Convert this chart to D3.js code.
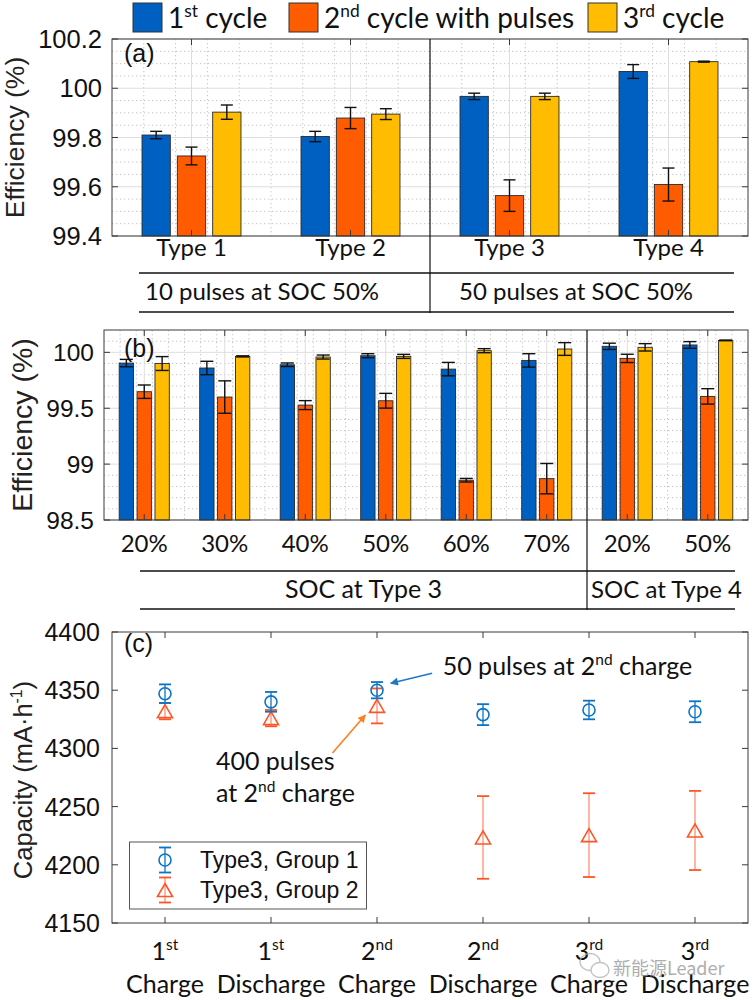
<!DOCTYPE html>
<html><head><meta charset="utf-8">
<script src="https://cdn.jsdelivr.net/npm/d3@7"></script>
<style>html,body{margin:0;padding:0;background:#fff;} svg{display:block;} text{white-space:pre;}</style>
</head><body>
<svg id="chart" width="754" height="1000"></svg>
<script>
// ---------------- DATA ----------------
const seriesNames = ["1^{st} cycle", "2^{nd} cycle with pulses", "3^{rd} cycle"];

// Panel (a)
const aCategories = ["Type 1", "Type 2", "Type 3", "Type 4"];
const aCycle1    = [99.810, 99.804, 99.967, 100.068];
const aCycle1Err = [0.015, 0.021, 0.013, 0.028];
const aCycle2    = [99.725, 99.879, 99.564, 99.609];
const aCycle2Err = [0.036, 0.043, 0.064, 0.067];
const aCycle3    = [99.903, 99.895, 99.967, 100.108];
const aCycle3Err = [0.029, 0.022, 0.013, 0.002];
const aGroupLabels = ["10 pulses at SOC 50%", "50 pulses at SOC 50%"];
const aTicks = [99.4, 99.6, 99.8, 100, 100.2];

// Panel (b)
const bCategories = ["20%", "30%", "40%", "50%", "60%", "70%", "20%", "50%"];
const bCycle1    = [99.904, 99.860, 99.889, 99.970, 99.850, 99.928, 100.054, 100.066];
const bCycle1Err = [0.033, 0.060, 0.016, 0.018, 0.060, 0.060, 0.028, 0.030];
const bCycle2    = [99.648, 99.600, 99.528, 99.567, 98.856, 98.870, 99.946, 99.606];
const bCycle2Err = [0.060, 0.145, 0.040, 0.066, 0.016, 0.136, 0.037, 0.069];
const bCycle3    = [99.900, 99.964, 99.958, 99.964, 100.015, 100.030, 100.045, 100.107];
const bCycle3Err = [0.062, 0.005, 0.018, 0.018, 0.018, 0.057, 0.033, 0.003];
const bGroupLabels = ["SOC at Type 3", "SOC at Type 4"];
const bTicks = [98.5, 99, 99.5, 100];

// Panel (c)
const cCycleLabels = ["1^{st}", "1^{st}", "2^{nd}", "2^{nd}", "3^{rd}", "3^{rd}"];
const cStepLabels  = ["Charge", "Discharge", "Charge", "Discharge", "Charge", "Discharge"];
const cGroup1    = [4347, 4340, 4350, 4329, 4333, 4331.5];
const cGroup1Err = [8, 8.5, 7, 9, 8, 9];
const cGroup2    = [4332, 4326, 4336.5, 4223.5, 4225.5, 4229.5];
const cGroup2Err = [7, 7, 15, 35.5, 36, 34];
const cSeriesNames = ["Type3, Group 1", "Type3, Group 2"];
const cTicks = [4150, 4200, 4250, 4300, 4350, 4400];
const cNotes = ["50 pulses at 2^{nd} charge", "400 pulses", "at 2^{nd} charge"];

// ---------------- STYLE ----------------
const W = 754, H = 1000;
const FONT_C = "Lato, 'Open Sans', sans-serif";
const FONT_A = "'Liberation Sans', Arial, Helvetica, sans-serif";
const barColors = ["#0060C2", "#FF5B00", "#FFBC00"];
const c1Color = "#0A74C8", c2Color = "#FF5526";
const AX = "#3a3a3a", TXT = "#111";

const svg = d3.select("#chart");
svg.append("rect").attr("width", W).attr("height", H).attr("fill", "#fff");

function rich(t, str, size) {
  const parts = []; const re = /\^\{([^}]*)\}/g; let last = 0, m;
  while ((m = re.exec(str))) {
    if (m.index > last) parts.push({ t: str.slice(last, m.index), sup: false });
    parts.push({ t: m[1], sup: true }); last = re.lastIndex;
  }
  if (last < str.length) parts.push({ t: str.slice(last), sup: false });
  const shift = size * 0.4; let raised = false;
  parts.forEach(p => {
    const ts = t.append("tspan").text(p.t);
    if (p.sup) { ts.attr("font-size", size * 0.62); if (!raised) { ts.attr("dy", -shift); raised = true; } }
    else if (raised) { ts.attr("dy", shift); raised = false; }
  });
  return t;
}
function txt(g, x, y, str, size, font, anchor) {
  const t = g.append("text").attr("x", x).attr("y", y).attr("font-size", size)
    .attr("font-family", font).attr("fill", TXT).attr("text-anchor", anchor || "start");
  return rich(t, str, size);
}
function hline(g, x0, x1, y, w, c) {
  g.append("line").attr("x1", x0).attr("x2", x1).attr("y1", y).attr("y2", y)
    .attr("stroke", c || "#111").attr("stroke-width", w || 1.5);
}
function vline(g, x, y0, y1, w, c) {
  g.append("line").attr("x1", x).attr("x2", x).attr("y1", y0).attr("y2", y1)
    .attr("stroke", c || "#111").attr("stroke-width", w || 1);
}

// ---------------- LEGEND TOP ----------------
const legX = [133, 289, 588];
seriesNames.forEach((s, i) => {
  svg.append("rect").attr("x", legX[i]).attr("y", 3).attr("width", 29).attr("height", 29)
    .attr("fill", barColors[i]).attr("stroke", "#333").attr("stroke-width", 1);
  txt(svg, legX[i] + 35, 28, s, 28, FONT_C);
});

// ---------------- BAR PANEL ----------------
function barPanel(o) {
  const g = svg.append("g");
  const n = o.cats.length;
  const x = d3.scaleLinear().domain([0.5, n + 0.5]).range([o.x0, o.x1]);
  const y = d3.scaleLinear().domain(o.domain).range([o.y1, o.y0]);
  const nMinY = Math.round((o.domain[1] - o.domain[0]) / o.minorY);
  for (let k = 1; k < nMinY; k++) {
    const v = o.domain[0] + k * o.minorY;
    if (o.ticks.some(t => Math.abs(t - v) < 1e-6)) continue;
    g.append("line").attr("x1", o.x0).attr("x2", o.x1).attr("y1", y(v)).attr("y2", y(v))
      .attr("stroke", "#c4c4c4").attr("stroke-width", 1).attr("stroke-dasharray", "1.3,2.7");
  }
  const nMinX = Math.round(n / 0.2);
  for (let k = 1; k < nMinX; k++) {
    const v = 0.5 + k * 0.2;
    if (Math.abs(v - Math.round(v)) < 1e-6) continue;
    g.append("line").attr("x1", x(v)).attr("x2", x(v)).attr("y1", o.y0).attr("y2", o.y1)
      .attr("stroke", "#c4c4c4").attr("stroke-width", 1).attr("stroke-dasharray", "1.3,2.7");
  }
  o.ticks.forEach(t => hline(g, o.x0, o.x1, y(t), 1, "#dedede"));
  d3.range(1, n + 1).forEach(i => vline(g, x(i), o.y0, o.y1, 1, "#dedede"));
  const step = 0.2222, bw = 0.178;
  o.series.forEach((ser, s) => {
    const off = (s - 1) * step;
    g.selectAll(null).data(ser.v).enter().append("rect")
      .attr("x", (d, i) => x(i + 1 + off - bw / 2))
      .attr("width", x(bw) - x(0))
      .attr("y", d => y(d))
      .attr("height", d => y(o.domain[0]) - y(d))
      .attr("fill", barColors[s]).attr("stroke", "#2a2a2a").attr("stroke-width", 0.9);
  });
  o.series.forEach((ser, s) => {
    const off = (s - 1) * step;
    ser.v.forEach((v, i) => {
      const cx = x(i + 1 + off), e = ser.e[i];
      vline(g, cx, y(v - e), y(v + e), 1.4, "#111");
      hline(g, cx - o.cap / 2, cx + o.cap / 2, y(v - e), 1.4, "#111");
      hline(g, cx - o.cap / 2, cx + o.cap / 2, y(v + e), 1.4, "#111");
    });
  });
  g.append("rect").attr("x", o.x0).attr("y", o.y0).attr("width", o.x1 - o.x0).attr("height", o.y1 - o.y0)
    .attr("fill", "none").attr("stroke", AX).attr("stroke-width", 1);
  o.ticks.forEach(t => {
    hline(g, o.x0, o.x0 + 6, y(t), 1, AX); hline(g, o.x1 - 6, o.x1, y(t), 1, AX);
    g.append("text").attr("x", o.x0 - 10).attr("y", y(t)).attr("dy", "0.36em")
      .attr("text-anchor", "end").attr("font-family", FONT_A).attr("font-size", o.tickSize)
      .attr("fill", TXT).text(d3.format("")(t));
  });
  d3.range(1, n + 1).forEach(i => { vline(g, x(i), o.y0, o.y0 + 6, 1, AX); vline(g, x(i), o.y1 - 6, o.y1, 1, AX); });
  o.cats.forEach((c, i) => txt(g, x(i + 1), o.catY, c, o.catSize, FONT_C, "middle"));
  txt(g, 124, o.letterY, o.letter, 25, FONT_A);
  const yl = g.append("text").attr("transform", `translate(${o.ylx},${(o.y0 + o.y1) / 2 + o.yldy}) rotate(-90)`)
    .attr("text-anchor", "middle").attr("font-family", FONT_A).attr("font-size", o.ylSize).attr("fill", "#222");
  rich(yl, o.ylabel, o.ylSize);
  return { g, x, y };
}

// Panel (a)
const A = barPanel({
  x0: 112, x1: 748, y0: 39, y1: 236, domain: [99.4, 100.2], ticks: aTicks, minorY: 0.05,
  cats: aCategories, cap: 12, tickSize: 25.5, catY: 256, catSize: 24,
  series: [{ v: aCycle1, e: aCycle1Err }, { v: aCycle2, e: aCycle2Err }, { v: aCycle3, e: aCycle3Err }],
  letter: "(a)", letterY: 62, ylabel: "Efficiency (%)", ylx: 24, yldy: 0, ylSize: 26.5
});
hline(svg, 139, 734, 273, 1.6);
hline(svg, 139, 734, 312, 1.6);
vline(svg, A.x(2.5), 39, 313, 1.2, "#111");
txt(svg, 145, 300, aGroupLabels[0], 24, FONT_C);
txt(svg, 459, 300, aGroupLabels[1], 24, FONT_C);

// Panel (b)
const B = barPanel({
  x0: 104, x1: 748, y0: 330, y1: 520, domain: [98.5, 100.2], ticks: bTicks, minorY: 0.1,
  cats: bCategories, cap: 13, tickSize: 24.5, catY: 552, catSize: 24,
  series: [{ v: bCycle1, e: bCycle1Err }, { v: bCycle2, e: bCycle2Err }, { v: bCycle3, e: bCycle3Err }],
  letter: "(b)", letterY: 357, ylabel: "Efficiency (%)", ylx: 32, yldy: 0, ylSize: 28.5
});
hline(svg, 140, 735, 571, 1.6);
hline(svg, 140, 735, 609, 1.6);
vline(svg, B.x(6.5), 330, 610, 1.2, "#111");
txt(svg, (140 + B.x(6.5)) / 2, 598, bGroupLabels[0], 25, FONT_C, "middle");
txt(svg, B.x(6.5) + 4, 598, bGroupLabels[1], 24, FONT_C);

// ---------------- PANEL (c) ----------------
(function () {
  const g = svg.append("g");
  const x0 = 112, x1 = 748, y0 = 632, y1 = 923;
  const x = d3.scaleLinear().domain([0.5, 6.5]).range([x0, x1]);
  const y = d3.scaleLinear().domain([4150, 4400]).range([y1, y0]);
  g.append("rect").attr("x", x0).attr("y", y0).attr("width", x1 - x0).attr("height", y1 - y0)
    .attr("fill", "#fff").attr("stroke", AX).attr("stroke-width", 1);
  cTicks.forEach(t => {
    hline(g, x0, x0 + 6, y(t), 1, AX); hline(g, x1 - 6, x1, y(t), 1, AX);
    g.append("text").attr("x", x0 - 12).attr("y", y(t)).attr("dy", "0.36em").attr("text-anchor", "end")
      .attr("font-family", FONT_A).attr("font-size", 25).attr("fill", TXT).text(t);
  });
  d3.range(1, 7).forEach(i => {
    vline(g, x(i), y0, y0 + 6, 1, AX); vline(g, x(i), y1 - 6, y1, 1, AX);
    txt(g, x(i), 960, cCycleLabels[i - 1], 25, FONT_C, "middle");
    txt(g, x(i), 993, cStepLabels[i - 1], 25, FONT_C, "middle");
  });
  txt(g, 124, 652, "(c)", 25, FONT_A);

  const tri = "M0,-6.5L7.5,6.5L-7.5,6.5Z";
  function errbar(cx, cyLo, cyHi, color, lineOpacity) {
    g.append("line").attr("x1", cx).attr("x2", cx).attr("y1", cyLo).attr("y2", cyHi)
      .attr("stroke", color).attr("stroke-width", 1.3).attr("stroke-opacity", lineOpacity);
    hline(g, cx - 6, cx + 6, cyLo, 1.8, color);
    hline(g, cx - 6, cx + 6, cyHi, 1.8, color);
  }
  cGroup2.forEach((v, i) => {
    errbar(x(i + 1), y(v - cGroup2Err[i]), y(v + cGroup2Err[i]), c2Color, 0.65);
    g.append("path").attr("d", tri).attr("transform", `translate(${x(i + 1)},${y(v)})`)
      .attr("fill", "none").attr("stroke", c2Color).attr("stroke-width", 1.6);
  });
  cGroup1.forEach((v, i) => {
    errbar(x(i + 1), y(v - cGroup1Err[i]), y(v + cGroup1Err[i]), c1Color, 1);
    g.append("circle").attr("cx", x(i + 1)).attr("cy", y(v)).attr("r", 6)
      .attr("fill", "none").attr("stroke", c1Color).attr("stroke-width", 1.6);
  });

  const defs = svg.append("defs");
  [["ahB", "#1F78C8"], ["ahO", "#FF7F1E"]].forEach(([id, col]) => {
    defs.append("marker").attr("id", id).attr("viewBox", "0 0 10 10").attr("refX", 9).attr("refY", 5)
      .attr("markerWidth", 9).attr("markerHeight", 8).attr("markerUnits", "userSpaceOnUse").attr("orient", "auto")
      .append("path").attr("d", "M0,0L10,5L0,10Z").attr("fill", col);
  });
  g.append("line").attr("x1", x(3.52)).attr("y1", y(4364.5)).attr("x2", x(3.13)).attr("y2", y(4356))
    .attr("stroke", "#1F78C8").attr("stroke-width", 1.6).attr("marker-end", "url(#ahB)");
  g.append("line").attr("x1", x(2.58)).attr("y1", y(4296)).attr("x2", x(2.89)).attr("y2", y(4328.7))
    .attr("stroke", "#FF7F1E").attr("stroke-width", 1.6).attr("marker-end", "url(#ahO)");
  txt(g, x(3.62), y(4363), cNotes[0], 25, FONT_C);
  txt(g, x(1.48), y(4281.5), cNotes[1], 25, FONT_C);
  txt(g, x(1.48), y(4254), cNotes[2], 25, FONT_C);

  g.append("rect").attr("x", 129.5).attr("y", 842).attr("width", 237).attr("height", 67)
    .attr("fill", "#fff").attr("stroke", "#555").attr("stroke-width", 1);
  const lx = 165;
  [[860, c1Color, "c"], [890, c2Color, "t"]].forEach(([ly, col, kind], k) => {
    errbar(lx, ly - 12.5, ly + 12.5, col, kind === "t" ? 0.65 : 1);
    if (kind === "c") g.append("circle").attr("cx", lx).attr("cy", ly).attr("r", 6).attr("fill", "none").attr("stroke", col).attr("stroke-width", 1.6);
    else g.append("path").attr("d", tri).attr("transform", `translate(${lx},${ly})`).attr("fill", "none").attr("stroke", col).attr("stroke-width", 1.6);
    g.append("text").attr("x", 200).attr("y", ly + 8).attr("font-family", FONT_A).attr("font-size", 23)
      .attr("fill", TXT).text(cSeriesNames[k]);
  });

  const yl = g.append("text").attr("transform", `translate(32,780) rotate(-90)`)
    .attr("text-anchor", "middle").attr("font-family", FONT_A).attr("font-size", 25.5).attr("fill", "#222");
  rich(yl, "Capacity (mA·h^{-1})", 25.5);

  const wm = svg.append("g").attr("opacity", 0.8);
  wm.append("ellipse").attr("cx", 590).attr("cy", 962).attr("rx", 10).attr("ry", 8.5).attr("fill", "none").attr("stroke", "#b5b5b5").attr("stroke-width", 1.4);
  wm.append("ellipse").attr("cx", 600).attr("cy", 970).attr("rx", 9).attr("ry", 7.5).attr("fill", "#fff").attr("stroke", "#b5b5b5").attr("stroke-width", 1.4);
  wm.append("text").attr("x", 613).attr("y", 975).attr("font-family", "'Noto Sans CJK SC', sans-serif")
    .attr("font-size", 18).attr("fill", "#9a9a9a").text("新能源Leader");
})();
</script>
</body></html>
